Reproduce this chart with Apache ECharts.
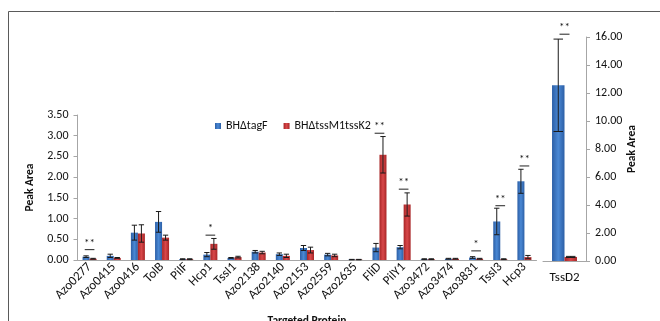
<!DOCTYPE html>
<html><head><meta charset="utf-8">
<script src="https://cdn.jsdelivr.net/npm/echarts@6/dist/echarts.min.js"></script>
<style>html,body{margin:0;padding:0;background:#fff}#c{width:660px;height:321px}</style>
</head><body><div id="c"></div>
<script>
const categories = ['Azo0277','Azo0415','Azo0416','TolB','PilF','Hcp1','TssI1','Azo2138','Azo2140','Azo2153','Azo2559','Azo2635','FliD','PilY1','Azo3472','Azo3474','Azo3831','TssI3','Hcp3'];
const tagF    = [0.08,0.10,0.66,0.92,0.02,0.13,0.05,0.20,0.14,0.29,0.13,0.01,0.30,0.31,0.02,0.03,0.06,0.93,1.90];
const tagFErr = [0.02,0.04,0.18,0.25,0.01,0.05,0.01,0.03,0.03,0.06,0.03,0.005,0.10,0.04,0.01,0.01,0.02,0.32,0.29];
const tss     = [0.03,0.05,0.64,0.54,0.02,0.39,0.07,0.18,0.10,0.24,0.11,0.01,2.54,1.34,0.02,0.03,0.03,0.02,0.07];
const tssErr  = [0.01,0.01,0.21,0.06,0.01,0.13,0.02,0.03,0.04,0.07,0.03,0.005,0.44,0.28,0.01,0.01,0.01,0.01,0.04];
const rightCategories = ['TssD2'];
const tagFRight = [12.55], tagFRightErr = [3.3];
const tssRight = [0.29], tssRightErr = [0.04];
const sigLeftCats  = ['Azo0277','Hcp1','FliD','PilY1','Azo3831','TssI3','Hcp3'];
const sigLeftLevel = [0.25,0.60,3.06,1.71,0.22,1.31,2.27];
const sigLeftStars = [2,1,2,2,1,2,2];
const sigRightCats = ['TssD2'], sigRightLevel = [16.2], sigRightStars = [2];
const leftTicks = {min:0, max:3.5, interval:0.5};
const rightTicks = {min:0, max:16, interval:2};
const seriesNames = ['BH\u0394tagF','BH\u0394tssM1tssK2'];

const GAP = 0.42;
const blueGrad = {type:'linear',x:0,y:0,x2:1,y2:0,colorStops:[{offset:0,color:'#2c5fa6'},{offset:0.5,color:'#4a88d4'},{offset:1,color:'#2c5fa6'}]};
const redGrad = {type:'linear',x:0,y:0,x2:1,y2:0,colorStops:[{offset:0,color:'#a82526'},{offset:0.5,color:'#d8484a'},{offset:1,color:'#a82526'}]};
const font = "Carlito, 'Liberation Sans Narrow', 'Liberation Sans'";

function errRender(sign){
  return function(params, api){
    const x = api.value(0), v = api.value(1), e = api.value(2);
    const band = api.size([1,0])[0];
    const barW = band*(1-GAP)/2;
    const cx = api.coord([x, v])[0] + sign*barW/2;
    const yt = api.coord([x, v+e])[1];
    const yb = api.coord([x, Math.max(0, v-e)])[1];
    const h = Math.max(2.5, barW*0.38);
    const st = {stroke:'#1a1a1a', lineWidth:1};
    return {type:'group', children:[
      {type:'line', shape:{x1:cx,y1:yt,x2:cx,y2:yb}, style:st},
      {type:'line', shape:{x1:cx-h,y1:yt,x2:cx+h,y2:yt}, style:st},
      {type:'line', shape:{x1:cx-h,y1:yb,x2:cx+h,y2:yb}, style:st}
    ]};
  };
}
function sigRender(params, api){
  const c = api.coord([api.value(0), api.value(1)]);
  const band = api.size([1,0])[0];
  const w = Math.min(10, band*0.4);
  const stars = '*'.repeat(api.value(2));
  return {type:'group', children:[
    {type:'line', shape:{x1:c[0]-w/2,y1:c[1],x2:c[0]+w/2,y2:c[1]}, style:{stroke:'#222',lineWidth:1}},
    {type:'text', style:{x:c[0], y:c[1]-1, text:stars, textAlign:'center', textVerticalAlign:'bottom', fontSize:11, fontFamily:font, fill:'#111'}}
  ]};
}

const chart = echarts.init(document.getElementById('c'), null, {renderer:'canvas'});
const axisLineGray = {lineStyle:{color:'#a6a6a6', width:1}};
chart.setOption({
  animation:false,
  textStyle:{fontFamily:font},
  graphic:[{type:'rect', shape:{x:8.5,y:11.5,width:700,height:400}, style:{fill:'none', stroke:'#5a5a5a', lineWidth:1}, z:-10}],
  legend:{data:seriesNames, left:210, top:115, itemWidth:6, itemHeight:6, itemGap:16, icon:'rect',
    textStyle:{fontSize:12, color:'#111', fontFamily:font}},
  grid:[{left:77.5, top:115, width:459, height:145, outerBoundsMode:'none', containLabel:false},
        {left:543, top:37, width:43, height:224, outerBoundsMode:'none', containLabel:false}],
  xAxis:[
    {type:'category', gridIndex:0, data:categories, axisLine:axisLineGray, axisTick:{length:5, lineStyle:{color:'#a6a6a6'}},
     axisLabel:{interval:0, rotate:45, fontSize:13, color:'#111', margin:5, fontFamily:font},
     name:'Targeted Protein', nameLocation:'middle', nameGap:55, nameTextStyle:{fontWeight:'bold', fontSize:11.5, color:'#111', verticalAlign:'top', fontFamily:font}},
    {type:'category', gridIndex:1, data:rightCategories, axisLine:axisLineGray, axisTick:{length:5, lineStyle:{color:'#a6a6a6'}},
     axisLabel:{interval:0, fontSize:13, color:'#111', margin:10, fontFamily:font}}
  ],
  yAxis:[
    {type:'value', gridIndex:0, min:leftTicks.min, max:leftTicks.max, interval:leftTicks.interval, splitLine:{show:false},
     axisLine:{show:true, lineStyle:{color:'#a6a6a6'}}, axisTick:{show:true, length:4, lineStyle:{color:'#a6a6a6'}},
     axisLabel:{formatter:v=>v.toFixed(2), fontSize:12, color:'#111', margin:9, fontFamily:font},
     name:'Peak Area', nameLocation:'middle', nameGap:33, nameTextStyle:{fontWeight:'bold', fontSize:11.5, color:'#111', fontFamily:font}},
    {type:'value', gridIndex:1, position:'right', min:rightTicks.min, max:rightTicks.max, interval:rightTicks.interval, splitLine:{show:false},
     axisLine:{show:true, lineStyle:{color:'#a6a6a6'}}, axisTick:{show:true, length:4, lineStyle:{color:'#a6a6a6'}},
     axisLabel:{formatter:v=>v.toFixed(2), fontSize:12, color:'#111', margin:9, fontFamily:font},
     name:'Peak Area', nameLocation:'middle', nameGap:39, nameTextStyle:{fontWeight:'bold', fontSize:11.5, color:'#111', fontFamily:font}}
  ],
  series:[
    {name:seriesNames[0], type:'bar', xAxisIndex:0, yAxisIndex:0, data:tagF, barGap:'0%', barCategoryGap:(GAP*100)+'%', itemStyle:{color:blueGrad}},
    {name:seriesNames[1], type:'bar', xAxisIndex:0, yAxisIndex:0, data:tss, barGap:'0%', barCategoryGap:(GAP*100)+'%', itemStyle:{color:redGrad}},
    {name:seriesNames[0], type:'bar', xAxisIndex:1, yAxisIndex:1, data:tagFRight, barGap:'0%', barCategoryGap:(GAP*100)+'%', itemStyle:{color:blueGrad}},
    {name:seriesNames[1], type:'bar', xAxisIndex:1, yAxisIndex:1, data:tssRight, barGap:'0%', barCategoryGap:(GAP*100)+'%', itemStyle:{color:redGrad}},
    {type:'custom', xAxisIndex:0, yAxisIndex:0, renderItem:errRender(-1), data:tagF.map((v,i)=>[i,v,tagFErr[i]]), z:5},
    {type:'custom', xAxisIndex:0, yAxisIndex:0, renderItem:errRender(1), data:tss.map((v,i)=>[i,v,tssErr[i]]), z:5},
    {type:'custom', xAxisIndex:1, yAxisIndex:1, renderItem:errRender(-1), data:tagFRight.map((v,i)=>[i,v,tagFRightErr[i]]), z:5},
    {type:'custom', xAxisIndex:1, yAxisIndex:1, renderItem:errRender(1), data:tssRight.map((v,i)=>[i,v,tssRightErr[i]]), z:5},
    {type:'custom', xAxisIndex:0, yAxisIndex:0, renderItem:sigRender, data:sigLeftCats.map((c,i)=>[categories.indexOf(c), sigLeftLevel[i], sigLeftStars[i]]), z:6},
    {type:'custom', xAxisIndex:1, yAxisIndex:1, renderItem:sigRender, data:sigRightCats.map((c,i)=>[rightCategories.indexOf(c), sigRightLevel[i], sigRightStars[i]]), z:6}
  ]
});
</script></body></html>
